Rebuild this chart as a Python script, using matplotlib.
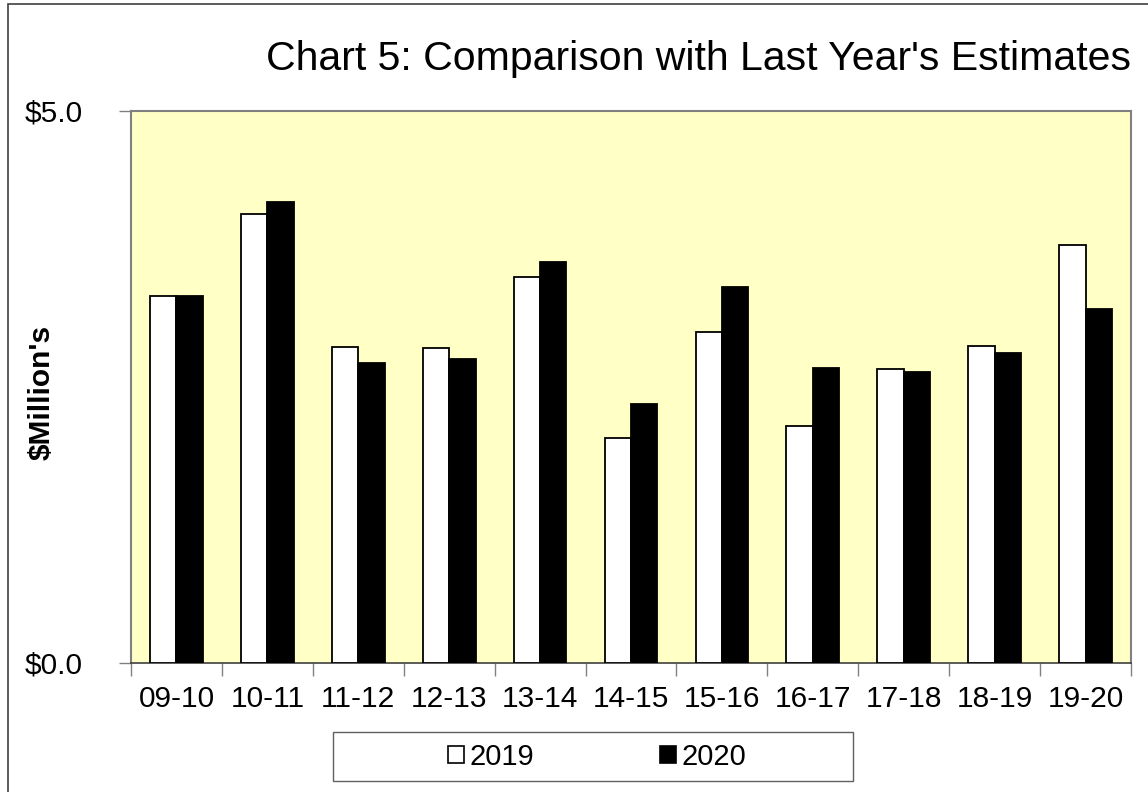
import matplotlib

matplotlib.use("Agg")
import matplotlib.pyplot as plt
import numpy as np
from matplotlib.patches import Patch, Rectangle

plt.rcParams["font.family"] = ["Liberation Sans", "DejaVu Sans"]

# fiscal years and estimates ($ millions)
years = ["09-10", "10-11", "11-12", "12-13", "13-14", "14-15",
         "15-16", "16-17", "17-18", "18-19", "19-20"]
est_2019 = [3.32, 4.07, 2.86, 2.85, 3.50, 2.04, 3.00, 2.15, 2.66, 2.87, 3.79]
est_2020 = [3.32, 4.18, 2.72, 2.75, 3.63, 2.35, 3.41, 2.67, 2.64, 2.81, 3.21]
y_ticks = [0.0, 5.0]
series_names = ["2019", "2020"]

W, H = 1148, 792
fig = plt.figure(figsize=(W / 100, H / 100), dpi=100)
ax = fig.add_axes([131 / W, 1 - 663 / H, 1000 / W, 552 / H])
ax.set_facecolor("#FFFFC6")

x = np.arange(len(years))
width = 0.29
ax.bar(x - width / 2, est_2019, width, color="white", edgecolor="black", linewidth=1.3, zorder=3)
ax.bar(x + width / 2, est_2020, width, color="black", edgecolor="black", linewidth=1.3, zorder=3)

ax.set_xlim(-0.5, len(years) - 0.5)
ax.set_ylim(0, 5)

# category labels centred, ticks on the group boundaries
ax.set_xticks(x)
ax.set_xticklabels(years, fontsize=21.5)
ax.tick_params(axis="x", which="major", length=0, pad=16)
ax.set_xticks(np.arange(len(years) + 1) - 0.5, minor=True)
ax.tick_params(axis="x", which="minor", length=9, width=1, color="#808080", direction="out")

ax.set_yticks(y_ticks)
ax.set_yticklabels([f"${v:.1f}" for v in y_ticks], fontsize=21.5)
ax.tick_params(axis="y", length=9, width=1, color="#808080", direction="out", pad=26)

for side in ["top", "right", "left"]:
    ax.spines[side].set_color("#808080")
    ax.spines[side].set_linewidth(1.5)
ax.spines["bottom"].set_color("#404040")
ax.spines["bottom"].set_linewidth(1.2)

ax.set_ylabel("$Million's", fontsize=21.5, fontweight="bold")
ax.yaxis.set_label_coords(-0.075, 0.49)

fig.text(1131 / W, 1 - 70 / H, "Chart 5: Comparison with Last Year's Estimates",
         fontsize=29.5, ha="right", va="baseline")

# legend: centred entries inside a wide gray box
handles = [Patch(facecolor="white", edgecolor="black", linewidth=1.2),
           Patch(facecolor="black", edgecolor="black", linewidth=1.2)]
fig.legend(handles, series_names, loc="center", bbox_to_anchor=(597 / W, 1 - 757 / H),
           ncol=2, frameon=False, fontsize=21, handlelength=0.55, handleheight=0.55,
           handletextpad=0.2, columnspacing=4.3)
fig.patches.append(Rectangle((333 / W, 1 - 781 / H), 520 / W, 49 / H,
                             transform=fig.transFigure, fill=False,
                             edgecolor="#606060", linewidth=1))

# outer chart border (right and bottom run off the image)
fig.patches.append(Rectangle((8 / W, -0.05), 1.2, 1.05 - 4 / H,
                             transform=fig.transFigure, fill=False,
                             edgecolor="#404040", linewidth=1.2))

fig.savefig("out.png", dpi=100)
